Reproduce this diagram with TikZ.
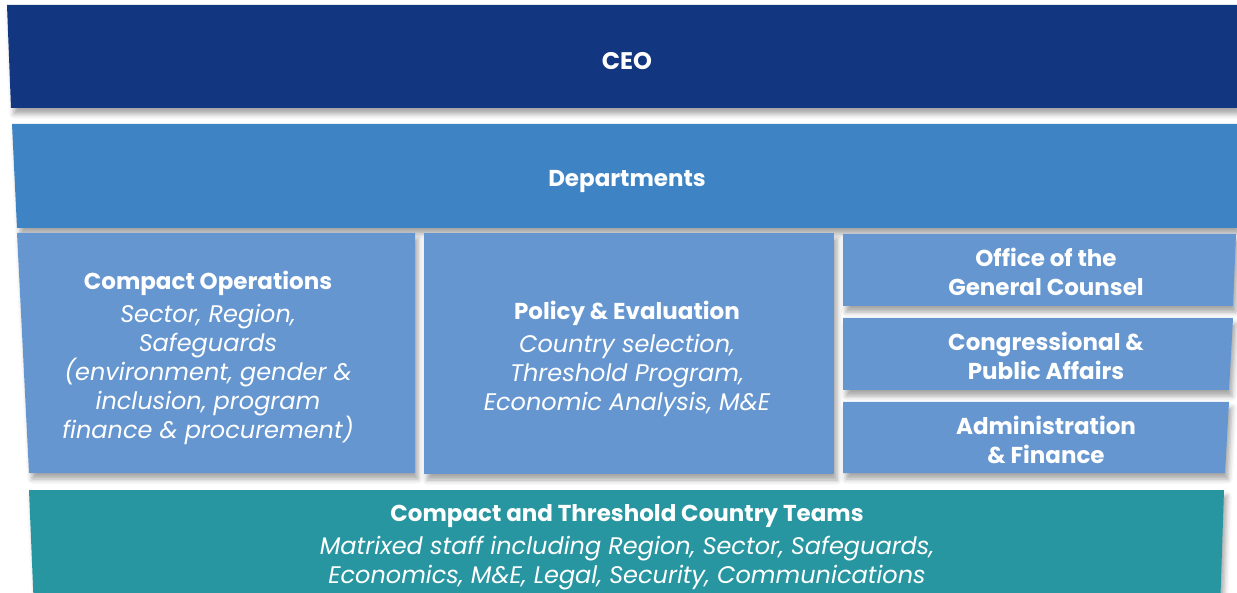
\documentclass[tikz,border=0pt]{standalone}
\usepackage{fontspec}
\setmainfont{Poppins}
\usetikzlibrary{shadows.blur}

\definecolor{ceoblue}{HTML}{12367F}
\definecolor{deptblue}{HTML}{3E84C5}
\definecolor{unitblue}{HTML}{6596D0}
\definecolor{teamteal}{HTML}{2796A1}

\tikzset{
  panel/.style={blur shadow={shadow xshift=3pt, shadow yshift=-6pt,
      shadow blur radius=5pt, shadow opacity=35}},
  boxtext/.style={text=white, align=center, inner sep=0pt,
      font=\fontsize{23}{29}\selectfont},
}
\newcommand\hd[1]{\textbf{#1}}
\newcommand\itl[1]{{\fontsize{24}{29}\selectfont\itshape #1}}

\begin{document}
\begin{tikzpicture}[x=1pt,y=-1pt]
\useasboundingbox (0,0) rectangle (1237,593);

% tiers of the organisation, each a slightly skewed panel
\fill[ceoblue, panel]  (7,5) -- (1237,5) -- (1237,108) -- (11,108) -- cycle;
\fill[deptblue, panel] (12,124) -- (1237,124) -- (1237,228) -- (17,228) -- cycle;
\fill[unitblue, panel] (17,233) -- (415,233) -- (415,473) -- (29,473) -- cycle;
\fill[unitblue, panel] (424,233) -- (834,233) -- (834,474) -- (424,474) -- cycle;
\fill[unitblue, panel] (843,234) -- (1236,234) -- (1233,306) -- (843,306) -- cycle;
\fill[unitblue, panel] (843,318) -- (1233,318) -- (1229,390) -- (843,390) -- cycle;
\fill[unitblue, panel] (843,402) -- (1229,402) -- (1225,473) -- (843,473) -- cycle;
\fill[teamteal, panel] (29,490) -- (1224,490) -- (1220,610) -- (34,610) -- cycle;

% labels
\node[boxtext] (ceo) at (627,61) {\fontsize{24}{29}\selectfont\hd{CEO}};
\node[boxtext] (dept) at (627,181) {\hd{Departments}};
\node[boxtext] (ops) at (208,358) {\hd{Compact Operations}\\[4pt]
  \itl{Sector, Region,}\\ \itl{Safeguards}\\ \itl{(environment, gender \&}\\
  \itl{inclusion, program}\\ \itl{finance \& procurement)}};
\node[boxtext] (pol) at (627,359) {\hd{Policy \& Evaluation}\\[4pt]
  \itl{Country selection,}\\ \itl{Threshold Program,}\\ \itl{Economic Analysis, M\&E}};
\node[boxtext] (ogc) at (1046,272) {\hd{Office of the}\\ \hd{General Counsel}};
\node[boxtext] (cpa) at (1046,356) {\hd{Congressional \&}\\ \hd{Public Affairs}};
\node[boxtext] (adm) at (1046,440) {\hd{Administration}\\ \hd{\& Finance}};
\node[boxtext] (teams) at (627,547) {\hd{Compact and Threshold Country Teams}\\[4pt]
  \itl{Matrixed staff including Region, Sector, Safeguards,}\\
  \itl{Economics, M\&E, Legal, Security, Communications}};
\end{tikzpicture}
\end{document}
